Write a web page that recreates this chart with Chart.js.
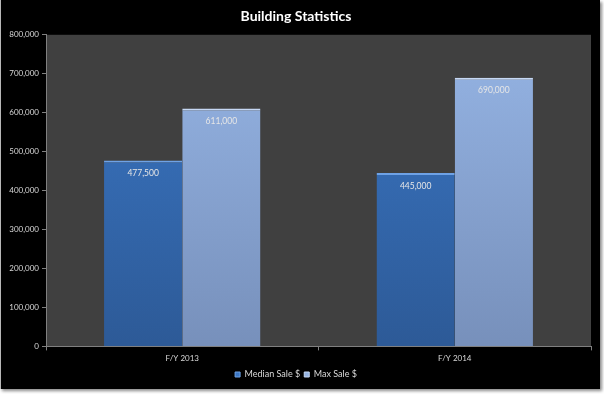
<!DOCTYPE html>
<html>
<head>
<meta charset="utf-8">
<title>Building Statistics</title>
<script src="https://cdn.jsdelivr.net/npm/chart.js@4.4.0/dist/chart.umd.min.js"></script>
<style>
  html, body { margin: 0; padding: 0; background: #ffffff; }
  #wrap {
    position: absolute; left: 0; top: 0;
    width: 599px; height: 389px;
    background: #000000;
    border-left: 1px solid #b8b8b8;
    box-shadow: 2px 2px 3px #8a8a8a;
  }
  canvas { display: block; }
</style>
</head>
<body>
<div id="wrap"><canvas id="chartCanvas" width="599" height="389"></canvas></div>
<script>
// --- Dados ---
const categorias = ["F/Y 2013", "F/Y 2014"];
const medianSale = [477500, 445000];
const maxSale = [611000, 690000];
const yTicks = [0, 100000, 200000, 300000, 400000, 500000, 600000, 700000, 800000];

const FONTE = "Lato, 'Open Sans', sans-serif";
const COR_TEXTO = "#d9d9d9";

function formatNumero(v) {
  return Number(v).toLocaleString("en-US");
}

// gradiente vertical para as barras
function gradiente(ctx, topo, base) {
  const chart = ctx.chart;
  const area = chart.chartArea;
  if (!area) return topo;
  const g = chart.ctx.createLinearGradient(0, area.top, 0, area.bottom);
  g.addColorStop(0, topo);
  g.addColorStop(1, base);
  return g;
}

// fundo cinza da área do gráfico
const fundoPlot = {
  id: "fundoPlot",
  beforeDraw(chart) {
    const { ctx, chartArea: a } = chart;
    ctx.save();
    ctx.fillStyle = "#404040";
    ctx.fillRect(a.left, a.top, a.right - a.left, a.bottom - a.top);
    ctx.restore();
  }
};

// rótulos de valor dentro do topo das barras
const rotulos = {
  id: "rotulos",
  afterDatasetsDraw(chart) {
    const ctx = chart.ctx;
    ctx.save();
    ctx.font = "8.5px " + FONTE;
    ctx.fillStyle = "#e6e6e6";
    ctx.textAlign = "center";
    ctx.textBaseline = "middle";
    chart.data.datasets.forEach((ds, i) => {
      chart.getDatasetMeta(i).data.forEach((bar, j) => {
        ctx.fillText(formatNumero(ds.data[j]), bar.x, bar.y + 13);
      });
    });
    ctx.restore();
  }
};

new Chart(document.getElementById("chartCanvas"), {
  type: "bar",
  data: {
    labels: categorias,
    datasets: [
      {
        label: "Median Sale $",
        data: medianSale,
        backgroundColor: ctx => gradiente(ctx, "#3a76c4", "#2d5a97"),
        borderColor: "#6ea2e6",
        borderWidth: { top: 2, left: 0, right: 0, bottom: 0 },
        borderSkipped: false,
        categoryPercentage: 0.574,
        barPercentage: 1
      },
      {
        label: "Max Sale $",
        data: maxSale,
        backgroundColor: ctx => gradiente(ctx, "#95b4e4", "#7790bb"),
        borderColor: "#c6d8f4",
        borderWidth: { top: 2, left: 0, right: 0, bottom: 0 },
        borderSkipped: false,
        categoryPercentage: 0.574,
        barPercentage: 1
      }
    ]
  },
  options: {
    responsive: false,
    animation: false,
    layout: { padding: { top: 0, left: 0, right: 9, bottom: 0 } },
    plugins: {
      title: {
        display: true,
        text: "Building Statistics",
        color: "#ffffff",
        font: { family: FONTE, size: 14, weight: "bold" },
        padding: { top: 8, bottom: 10 }
      },
      legend: {
        position: "bottom",
        labels: {
          color: COR_TEXTO,
          font: { family: FONTE, size: 9 },
          boxWidth: 5,
          boxHeight: 5,
          padding: 4,
          generateLabels(chart) {
            const cores = [["#3a76c4", "#6ea2e6"], ["#95b4e4", "#c6d8f4"]];
            return chart.data.datasets.map((ds, i) => ({
              text: ds.label,
              fillStyle: cores[i][0],
              strokeStyle: cores[i][1],
              lineWidth: 1,
              fontColor: COR_TEXTO,
              datasetIndex: i
            }));
          }
        }
      },
      tooltip: { enabled: false }
    },
    scales: {
      x: {
        grid: {
          display: true,
          drawOnChartArea: false,
          offset: true,
          tickLength: 4,
          color: "#808080"
        },
        border: { color: "#808080", width: 1 },
        ticks: {
          color: COR_TEXTO,
          font: { family: FONTE, size: 8 },
          padding: 3
        }
      },
      y: {
        min: 0,
        max: 800000,
        afterBuildTicks(scale) {
          scale.ticks = yTicks.map(v => ({ value: v }));
        },
        afterFit(scale) {
          scale.width = 45;
        },
        grid: {
          display: true,
          drawOnChartArea: false,
          tickLength: 4,
          color: "#808080"
        },
        border: { color: "#808080", width: 1 },
        ticks: {
          color: COR_TEXTO,
          font: { family: FONTE, size: 8 },
          padding: 3,
          callback: v => formatNumero(v)
        }
      }
    }
  },
  plugins: [fundoPlot, rotulos]
});
</script>
</body>
</html>
